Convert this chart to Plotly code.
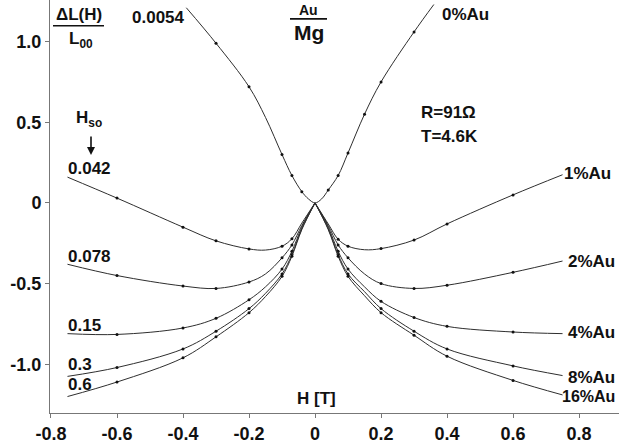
import plotly.graph_objects as go

# ---------------- data ----------------
H_0 = [-0.39, -0.3, -0.2, -0.15, -0.1, -0.07, -0.04, -0.02, 0, 0.02, 0.04, 0.07, 0.1, 0.15, 0.2, 0.3, 0.36]
dL_0 = [1.21, 0.99, 0.72, 0.53, 0.30, 0.17, 0.07, 0.025, 0, 0.025, 0.08, 0.17, 0.31, 0.55, 0.75, 1.06, 1.23]
H_0_meas = [-0.3, -0.2, -0.1, -0.07, -0.04, 0.04, 0.07, 0.1, 0.15, 0.2, 0.3]

H = [-0.75, -0.6, -0.4, -0.3, -0.2, -0.15, -0.1, -0.07, -0.04, 0, 0.04, 0.07, 0.1, 0.15, 0.2, 0.3, 0.4, 0.6, 0.75]
dL_1 = [0.16, 0.03, -0.15, -0.235, -0.285, -0.292, -0.268, -0.222, -0.125, 0, -0.13, -0.225, -0.268, -0.29, -0.283, -0.23, -0.13, 0.05, 0.175]
dL_2 = [-0.38, -0.45, -0.515, -0.53, -0.49, -0.44, -0.34, -0.26, -0.14, 0, -0.14, -0.26, -0.34, -0.44, -0.50, -0.53, -0.51, -0.43, -0.36]
dL_4 = [-0.81, -0.815, -0.775, -0.715, -0.60, -0.52, -0.41, -0.30, -0.15, 0, -0.15, -0.30, -0.41, -0.52, -0.61, -0.71, -0.765, -0.80, -0.81]
dL_8 = [-1.075, -1.02, -0.905, -0.795, -0.655, -0.56, -0.44, -0.32, -0.16, 0, -0.16, -0.32, -0.44, -0.55, -0.655, -0.795, -0.905, -1.01, -1.07]
dL_16 = [-1.20, -1.11, -0.96, -0.83, -0.68, -0.58, -0.455, -0.33, -0.165, 0, -0.165, -0.33, -0.455, -0.575, -0.68, -0.82, -0.95, -1.10, -1.19]
H_meas = [-0.6, -0.4, -0.3, -0.2, -0.1, -0.07, 0.07, 0.1, 0.2, 0.3, 0.4, 0.6]

x_ticks = [-0.8, -0.6, -0.4, -0.2, 0, 0.2, 0.4, 0.6, 0.8]
x_ticktext = ["-0.8", "-0.6", "-0.4", "-0.2", "0", "0.2", "0.4", "0.6", "0.8"]
y_ticks = [-1.0, -0.5, 0, 0.5, 1.0]
y_ticktext = ["-1.0", "-0.5", "0", "0.5", "1.0"]

LINE = "#2e2e2e"
INK = "#111111"
FONT = "Liberation Sans, Arial, sans-serif"

fig = go.Figure()


def split_cusp(xs, ys):
    i0 = xs.index(0)
    return xs[:i0 + 1] + [None] + xs[i0:], ys[:i0 + 1] + [None] + ys[i0:]


def add_curve(xs, ys, meas, cusp=True):
    if cusp:
        lx, ly = split_cusp(xs, ys)
    else:
        lx, ly = xs, ys
    fig.add_trace(go.Scatter(x=lx, y=ly, mode="lines",
                             line=dict(color=LINE, width=1.0, shape="spline", smoothing=1.0),
                             hoverinfo="skip", showlegend=False))
    mx = [x for x in xs if x in meas]
    my = [y for x, y in zip(xs, ys) if x in meas]
    fig.add_trace(go.Scatter(x=mx, y=my, mode="markers",
                             marker=dict(color=INK, size=3),
                             hoverinfo="skip", showlegend=False))


add_curve(H_0, dL_0, H_0_meas, cusp=False)
for series in (dL_1, dL_2, dL_4, dL_8, dL_16):
    add_curve(H, series, H_meas)


def P(px, py):
    return (px - 50) / 569.0, (416 - py) / 416.0


annots = []


def txt(text, px, py, anchor="center", size=17):
    x, y = P(px, py)
    annots.append(dict(text=text, x=x, y=y, xref="paper", yref="paper",
                       xanchor=anchor, yanchor="middle", showarrow=False,
                       font=dict(family=FONT, size=size, color=INK, weight="bold")))


txt("ΔL(H)", 79, 15)
txt("L<sub>00</sub>", 81, 40)
txt("0.0054", 187, 18, "right")
txt("Au", 308, 10, size=14)
txt("Mg", 309, 33, size=21)
txt("0%Au", 440, 15, "left")
txt("R=91Ω", 419, 113, "left")
txt("T=4.6K", 419, 137, "left")
txt("1%Au", 562, 175, "left")
txt("2%Au", 566, 263, "left")
txt("4%Au", 566, 335, "left")
txt("8%Au", 566, 380, "left")
txt("16%Au", 560, 399, "left", size=16)
txt("H<sub>so</sub>", 89, 120)
txt("0.042", 66, 170, "left")
txt("0.078", 66, 258, "left")
txt("0.15", 66, 328, "left")
txt("0.3", 66, 367, "left")
txt("0.6", 66, 387, "left")
txt("H [T]", 316, 401)

ax_, ay_ = P(91, 156)
annots.append(dict(text="", x=ax_, y=ay_, xref="paper", yref="paper", showarrow=True,
                   ax=0, ay=-20, arrowhead=2, arrowsize=1, arrowwidth=1.6, arrowcolor=INK))

shapes = []
for (x0p, x1p, yp) in [(53, 104, 26), (290, 327, 19)]:
    a0, b0 = P(x0p, yp)
    a1, _ = P(x1p, yp)
    shapes.append(dict(type="line", xref="paper", yref="paper", x0=a0, x1=a1, y0=b0, y1=b0,
                       line=dict(color=INK, width=1.6)))

fig.update_layout(
    width=619, height=444,
    margin=dict(l=50, r=0, t=0, b=28),
    paper_bgcolor="white", plot_bgcolor="white",
    annotations=annots, shapes=shapes,
    font=dict(family=FONT, size=17, color=INK),
    xaxis=dict(range=[-0.803, 0.921], tickvals=x_ticks, ticktext=x_ticktext,
               showgrid=False, zeroline=False, showline=True, linecolor="#777777", linewidth=1,
               ticks="outside", ticklen=4, tickcolor="#777777",
               tickfont=dict(family=FONT, size=18, color=INK, weight="bold")),
    yaxis=dict(range=[-1.302, 1.258], tickvals=y_ticks, ticktext=y_ticktext,
               showgrid=False, zeroline=False, showline=True, linecolor="#777777", linewidth=1,
               ticks="outside", ticklen=4, tickcolor="#777777",
               tickfont=dict(family=FONT, size=18, color=INK, weight="bold")),
)

fig.write_html("out.html")
